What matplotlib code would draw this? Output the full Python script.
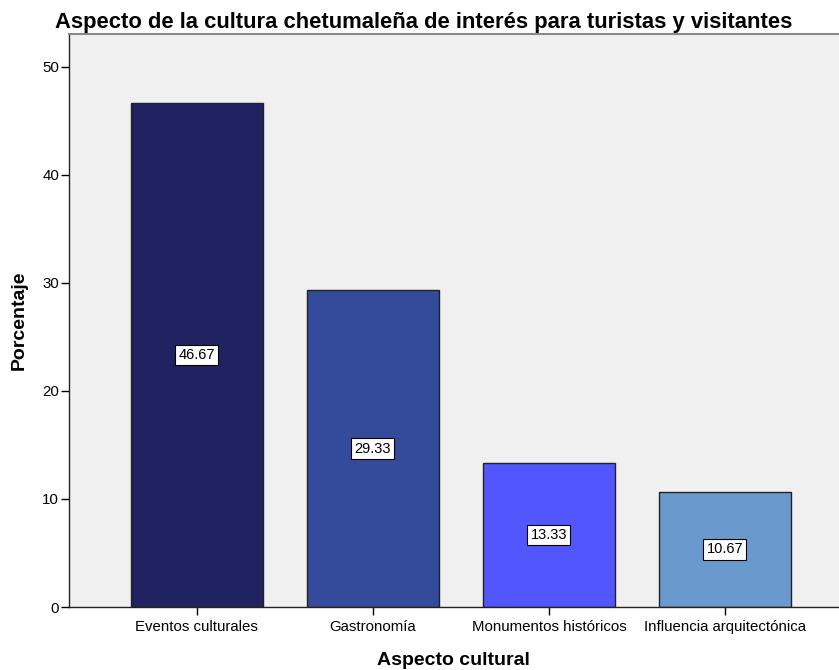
import matplotlib

matplotlib.use("Agg")
import matplotlib.pyplot as plt

plt.rcParams["font.family"] = ["Liberation Sans", "DejaVu Sans"]

categories = ["Eventos culturales", "Gastronomía", "Monumentos históricos",
              "Influencia arquitectónica"]
percentages = [46.67, 29.33, 13.33, 10.67]
bar_colors = ["#202262", "#344b9c", "#5157fd", "#6a9acd"]
yticks = [0, 10, 20, 30, 40, 50]

fig = plt.figure(figsize=(8.39, 6.70), dpi=100)
ax = fig.add_axes([0.0822, 0.094, 0.9178, 0.855])
ax.set_facecolor("#f0f0f0")

x = list(range(len(categories)))
ax.bar(x, percentages, width=0.75, color=bar_colors, edgecolor="#222222", linewidth=1.0)

# value boxes in the middle of each bar
for xi, v in zip(x, percentages):
    ax.text(xi, v / 2, f"{v:.2f}", ha="center", va="center", fontsize=10.5,
            bbox=dict(boxstyle="square,pad=0.22", facecolor="white", edgecolor="black", linewidth=0.8))

ax.set_xlim(-0.727, 3.648)
ax.set_ylim(0, 53)
ax.set_yticks(yticks)
ax.set_xticks(x)
ax.set_xticklabels(categories, fontsize=10.8)
ax.tick_params(axis="y", labelsize=10.8, length=6, width=1, pad=1)
ax.tick_params(axis="x", length=6, width=1, pad=3)

for side in ["left", "bottom"]:
    ax.spines[side].set_color("#222222")
    ax.spines[side].set_linewidth(1.0)
ax.spines["top"].set_color("#888888")
ax.spines["top"].set_linewidth(1.5)
ax.spines["right"].set_visible(False)

ax.set_xlabel("Aspecto cultural", fontsize=14, fontweight="bold")
ax.set_ylabel("Porcentaje", fontsize=14, fontweight="bold")
ax.xaxis.set_label_coords(0.499, -0.078)
ax.yaxis.set_label_coords(-0.054, 0.5)
fig.text(0.505, 0.966, "Aspecto de la cultura chetumaleña de interés para turistas y visitantes",
         ha="center", va="center", fontsize=15.8, fontweight="bold")

fig.savefig("out.png", dpi=100)
